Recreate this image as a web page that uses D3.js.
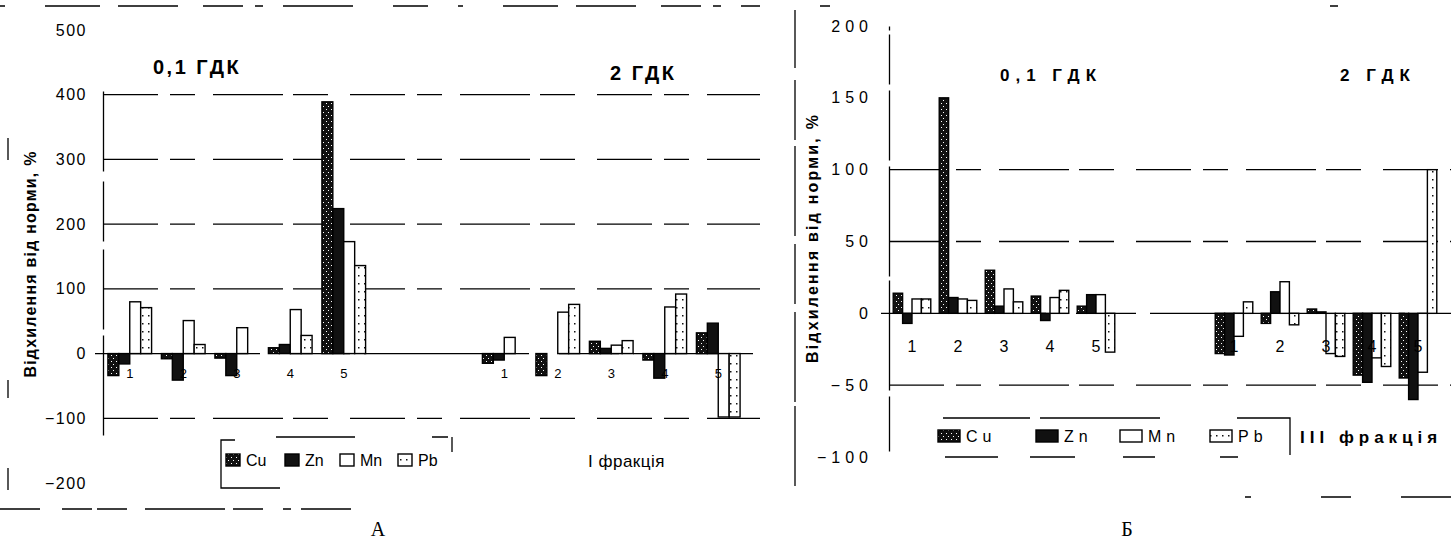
<!DOCTYPE html>
<html>
  <head>
    <meta charset="utf-8">
    <style>
    body {
      font-family: "Liberation Sans", Arial, sans-serif;
      margin: 0;
      background: #fff;
    }
    </style>
  </head>
  <body>
    <script src="https://d3js.org/d3.v7.min.js"></script>
    <script>
    var width = 1451, height = 542;

    // series and slots (two empty slots separate 0,1 ГДК and 2 ГДК)
    var series = ["Cu", "Zn", "Mn", "Pb"];
    var slotLabels = ["1", "2", "3", "4", "5", "", "", "1", "2", "3", "4", "5"];

    // panel А, I фракція
    var cuA = [-34, -8, -7, 9, 389, null, null, -15, -34, 19, -10, 32];
    var znA = [-16, -41, -34, 14, 224, null, null, -10, 0, 8, -38, 47];
    var mnA = [80, 51, 40, 68, 173, null, null, 25, 64, 13, 72, -98];
    var pbA = [71, 14, 0, 28, 136, null, null, 0, 76, 20, 92, -98];
    var ticksA = [500, 400, 300, 200, 100, 0, -100, -200];
    var gridA = [400, 300, 200, 100, -100];

    // panel Б, III фракція
    var cuB = [14, 150, 30, 12, 5, null, null, -28, -7, 3, -43, -45];
    var znB = [-7, 11, 5, -5, 13, null, null, -29, 15, 1, -48, -60];
    var mnB = [10, 10, 17, 11, 13, null, null, -16, 22, -28, -31, -41];
    var pbB = [10, 9, 8, 16, -27, null, null, 8, -8, -30, -37, 100];
    var ticksB = [200, 150, 100, 50, 0, -50, -100];
    var gridB = [100, 50, -50];

    var svg = d3.select("body").append("svg")
        .attr("width", width)
        .attr("height", height);

    var defs = svg.append("defs");

    var pCu = defs.append("pattern").attr("id", "pat-cu")
        .attr("patternUnits", "userSpaceOnUse").attr("width", 5).attr("height", 6);
    pCu.append("rect").attr("width", 5).attr("height", 6).attr("fill", "#111");
    pCu.append("rect").attr("x", 1).attr("y", 1).attr("width", 1).attr("height", 1).attr("fill", "#fff");
    pCu.append("rect").attr("x", 3).attr("y", 4).attr("width", 1).attr("height", 1).attr("fill", "#fff");

    var pPb = defs.append("pattern").attr("id", "pat-pb")
        .attr("patternUnits", "userSpaceOnUse").attr("width", 6).attr("height", 8);
    pPb.append("rect").attr("width", 6).attr("height", 8).attr("fill", "#fff");
    pPb.append("rect").attr("x", 4).attr("y", 3).attr("width", 1.5).attr("height", 1.5).attr("fill", "#111");

    var fills = {Cu: "url(#pat-cu)", Zn: "#111", Mn: "#fff", Pb: "url(#pat-pb)"};
    var dash = "55,12,25,18,70,10,35,22";

    function drawPanel(cfg) {
      var g = svg.append("g");

      var x = d3.scaleBand()
          .domain(d3.range(slotLabels.length))
          .range([cfg.x0, cfg.x1]);

      var xs = d3.scaleBand()
          .domain(series)
          .range([0, x.bandwidth()])
          .paddingOuter(0.45);

      var y = d3.scaleLinear()
          .domain(cfg.domain)
          .range([cfg.y1, cfg.y0]);

      // frame pieces
      g.append("line")
          .attr("x1", cfg.frame[0]).attr("x2", cfg.frame[1])
          .attr("y1", 6).attr("y2", 6)
          .attr("stroke", "#000").attr("stroke-width", 1.3)
          .attr("stroke-dasharray", cfg.topDash);
      g.append("line")
          .attr("x1", cfg.frame[2]).attr("x2", cfg.frame[3])
          .attr("y1", cfg.frameBottom).attr("y2", cfg.frameBottom)
          .attr("stroke", "#000").attr("stroke-width", 1.3)
          .attr("stroke-dasharray", cfg.bottomDash);
      g.append("line")
          .attr("x1", cfg.frameLeft).attr("x2", cfg.frameLeft)
          .attr("y1", 10).attr("y2", cfg.frameBottom)
          .attr("stroke", "#000").attr("stroke-width", 1.3)
          .attr("stroke-dasharray", cfg.leftDash);

      // grid
      g.selectAll(".grid").data(cfg.grid).enter().append("line")
          .attr("x1", cfg.x0).attr("x2", cfg.gridEnd)
          .attr("y1", function(d) { return y(d); })
          .attr("y2", function(d) { return y(d); })
          .attr("stroke", "#000").attr("stroke-width", 1.3)
          .attr("stroke-dasharray", dash);

      // zero line
      g.append("line")
          .attr("x1", cfg.x0 - 8).attr("x2", cfg.gridEnd)
          .attr("y1", y(0)).attr("y2", y(0))
          .attr("stroke", "#000").attr("stroke-width", 1.3)
          .attr("stroke-dasharray", "120,20,25,30,60,14");

      // y axis
      var axis = d3.axisLeft(y).tickValues(cfg.ticks).tickSize(0).tickPadding(16);
      var ax = g.append("g").attr("transform", "translate(" + cfg.x0 + ",0)").call(axis);
      ax.select(".domain")
          .attr("stroke-width", 1.3)
          .attr("stroke-dasharray", cfg.axisDash);
      ax.selectAll("text")
          .attr("font-family", "Liberation Sans, Arial, sans-serif")
          .attr("font-size", 16)
          .attr("letter-spacing", cfg.tickSpacing)
          .attr("fill", "#000");

      // bars
      var rows = [];
      series.forEach(function(s, si) {
        cfg.values[si].forEach(function(v, i) {
          if (v !== null && v !== 0) rows.push({s: s, i: i, v: v});
        });
      });
      g.selectAll(".bar").data(rows).enter().append("rect")
          .attr("x", function(d) { return x(d.i) + xs(d.s); })
          .attr("width", xs.bandwidth())
          .attr("y", function(d) { return y(Math.max(0, d.v)); })
          .attr("height", function(d) { return Math.abs(y(d.v) - y(0)); })
          .attr("fill", function(d) { return fills[d.s]; })
          .attr("stroke", "#000")
          .attr("stroke-width", 1.4);

      // category numbers
      g.selectAll(".cat").data(slotLabels).enter().append("text")
          .attr("x", function(d, i) { return x(i) + x.bandwidth() / 2; })
          .attr("y", cfg.catY)
          .attr("text-anchor", "middle")
          .attr("font-size", cfg.catSize)
          .text(function(d) { return d; });

      // titles
      cfg.titles.forEach(function(t) {
        g.append("text")
            .attr("x", t[0]).attr("y", t[1])
            .attr("font-size", cfg.titleSize)
            .attr("font-weight", "bold")
            .attr("letter-spacing", cfg.titleSpacing)
            .text(t[2]);
      });

      // y label
      g.append("text")
          .attr("transform", "translate(" + cfg.labelX + "," + cfg.labelY + ") rotate(-90)")
          .attr("text-anchor", "middle")
          .attr("font-size", 16)
          .attr("font-weight", "bold")
          .attr("letter-spacing", cfg.labelSpacing)
          .text("Відхилення від норми, %");

      // legend
      var lg = g.append("g");
      lg.append("path")
          .attr("d", cfg.legendBox)
          .attr("fill", "none").attr("stroke", "#000").attr("stroke-width", 1.3);
      series.forEach(function(s, si) {
        var lx = cfg.legendX[si];
        lg.append("rect")
            .attr("x", lx).attr("y", cfg.legendY - 7)
            .attr("width", cfg.swatch).attr("height", 12)
            .attr("fill", fills[s]).attr("stroke", "#000").attr("stroke-width", 1.4);
        lg.append("text")
            .attr("x", lx + cfg.swatch + 6).attr("y", cfg.legendY + 5)
            .attr("font-size", 16)
            .attr("letter-spacing", cfg.legendSpacing)
            .text(s);
      });

      g.append("text")
          .attr("x", cfg.fracX).attr("y", cfg.legendY + 6)
          .attr("font-size", 17)
          .attr("font-weight", cfg.fracWeight)
          .attr("letter-spacing", cfg.fracSpacing)
          .text(cfg.frac);

      g.append("text")
          .attr("x", cfg.letterX).attr("y", 536)
          .attr("text-anchor", "middle")
          .attr("font-family", "Liberation Serif, serif")
          .attr("font-size", 20)
          .text(cfg.letter);
    }

    drawPanel({
      x0: 103, x1: 745, gridEnd: 760, y0: 30, y1: 483,
      domain: [-200, 500], ticks: ticksA, grid: gridA,
      values: [cuA, znA, mnA, pbA],
      frame: [0, 760, 0, 360], frameBottom: 509, frameLeft: 8,
      topDash: "5,40,55,18,60,25,40,12,8,20,70,40,35,30",
      bottomDash: "40,22,30,5,30,18,80,8,30,20,8,10,50,90",
      leftDash: "0,128,22,220,18,70,22,60",
      axisDash: "0,48,100,6,80,8,60,10,80,400",
      tickSpacing: 1.5, catY: 378, catSize: 13,
      titles: [[153, 74, "0,1 ГДК"], [610, 80, "2 ГДК"]],
      titleSize: 20, titleSpacing: 2.5,
      labelX: 36, labelY: 264, labelSpacing: 1.2,
      legendBox: "M235,440 H221 V488 H280 M276,437 H355 M432,437 H448 M452,437 V452",
      legendX: [226, 285, 340, 398], legendY: 461, swatch: 14, legendSpacing: 0,
      frac: "І фракція", fracX: 588, fracWeight: "normal", fracSpacing: 0.5,
      letter: "А", letterX: 378
    });

    drawPanel({
      x0: 889, x1: 1441, gridEnd: 1451, y0: 26, y1: 457,
      domain: [-100, 200], ticks: ticksB, grid: gridB,
      values: [cuB, znB, mnB, pbB],
      frame: [800, 1451, 1245, 1451], frameBottom: 497, frameLeft: 795,
      topDash: "0,20,10,500,8,200",
      bottomDash: "6,70,30,50,55,100",
      leftDash: "58,12,60,6,90,8,60,8,90,4,80",
      axisDash: "0,6,55,6,110,4,110,6,70,6,50,4,60",
      tickSpacing: 5, catY: 352, catSize: 16,
      titles: [[1000, 81, "0,1 ГДК"], [1340, 81, "2 ГДК"]],
      titleSize: 17, titleSpacing: 6,
      labelX: 818, labelY: 238, labelSpacing: 2.2,
      legendBox: "M943,418 H1030 M1040,418 H1160 M1237,418 H1290 V455 M945,457 H998 M1030,457 H1075 M1123,457 H1155 M1220,457 H1238",
      legendX: [938, 1036, 1120, 1210], legendY: 437, swatch: 22, legendSpacing: 5,
      frac: "ІІІ фракція", fracX: 1300, fracWeight: "bold", fracSpacing: 5,
      letter: "Б", letterX: 1127
    });
    </script>
  </body>
</html>
